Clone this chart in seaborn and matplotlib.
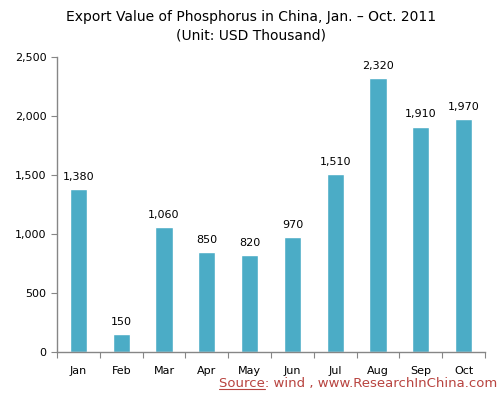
import matplotlib
matplotlib.use("Agg")
import matplotlib.pyplot as plt
import seaborn as sns
import pandas as pd
from matplotlib.lines import Line2D

months = ["Jan", "Feb", "Mar", "Apr", "May", "Jun", "Jul", "Aug", "Sep", "Oct"]
values = [1380, 150, 1060, 850, 820, 970, 1510, 2320, 1910, 1970]
yticks = [0, 500, 1000, 1500, 2000, 2500]

sns.set_style("white")
plt.rcParams['font.family'] = ['DejaVu Sans']
plt.rcParams['text.color'] = 'black'
plt.rcParams['xtick.color'] = 'black'
plt.rcParams['ytick.color'] = 'black'

df = pd.DataFrame({"month": months, "value": values})

fig = plt.figure(figsize=(5.03, 3.93), dpi=100)
ax = fig.add_axes([0.1133, 0.1043, 0.851, 0.751])
sns.barplot(data=df, x="month", y="value", color="#4BACC6", saturation=1, width=0.4, ax=ax)

ax.set_ylim(0, 2500)
ax.set_xlim(-0.5, len(months) - 0.5)
ax.set_yticks(yticks)
ax.set_yticklabels([f"{v:,}" for v in yticks], fontsize=8)
ax.set_xticks([i - 0.5 for i in range(len(months) + 1)], minor=False)
ax.set_xticklabels([""] * (len(months) + 1))
ax.set_xticks(range(len(months)), minor=True)
ax.set_xticklabels(months, minor=True, fontsize=8)
ax.tick_params(axis="x", which="minor", length=0, pad=10, labelcolor="black")
ax.tick_params(axis="x", which="major", length=4, color="#868686", direction="out", bottom=True)
ax.tick_params(axis="y", length=4, color="#868686", direction="out", left=True, labelcolor="black")
ax.set_xlabel("")
ax.set_ylabel("")
for s in ["top", "right"]:
    ax.spines[s].set_visible(False)
for s in ["left", "bottom"]:
    ax.spines[s].set_color("#868686")
    ax.spines[s].set_linewidth(1)

for i, v in enumerate(values):
    ax.text(i, v + 60, f"{v:,}", ha="center", va="bottom", fontsize=8, color="black")

fig.text(0.5, 0.975, "Export Value of Phosphorus in China, Jan. \u2013 Oct. 2011", ha="center", va="top", fontsize=10, color="black")
fig.text(0.5, 0.927, "(Unit: USD Thousand)", ha="center", va="top", fontsize=10, color="black")

src_color = "#B8433F"
src = fig.text(0.988, 0.016, "Source: wind , www.ResearchInChina.com", ha="right", va="baseline", fontsize=9.5, color=src_color)
fig.canvas.draw()
r = fig.canvas.get_renderer()
bb = src.get_window_extent(r)
tmp = fig.text(0, 0, "Source", fontsize=9.5)
wb = tmp.get_window_extent(r)
tmp.remove()
y_line = 0.016 * fig.bbox.height - 2
fig.add_artist(Line2D([bb.x0 / fig.bbox.width, (bb.x0 + wb.width) / fig.bbox.width],
                      [y_line / fig.bbox.height] * 2, color=src_color, lw=0.8,
                      transform=fig.transFigure))
fig.savefig("out.png", dpi=100)
